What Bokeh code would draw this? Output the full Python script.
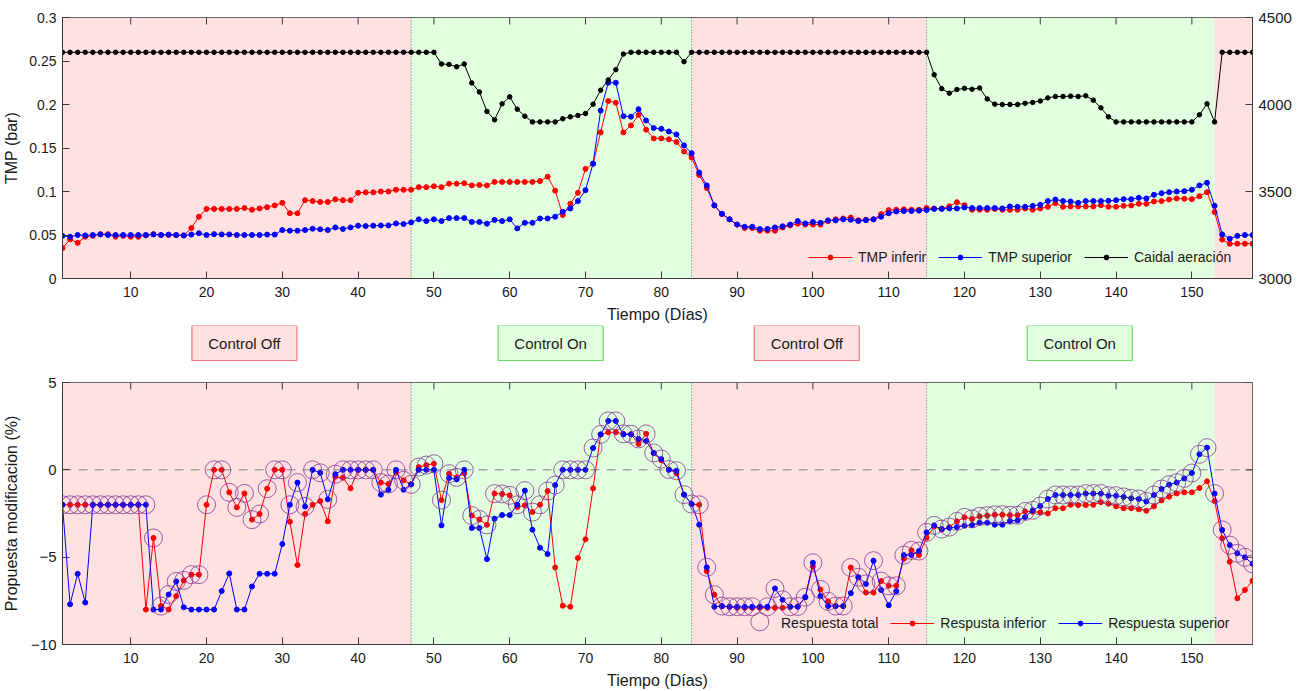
import math
from bokeh.plotting import figure
from bokeh.models import (Range1d, LinearAxis, FixedTicker, BoxAnnotation, Span,
                          Legend, LegendItem)
from bokeh.layouts import column
from bokeh.core.properties import value
from bokeh.embed import file_html
from bokeh.resources import INLINE

FONT = "Liberation Sans"

days = list(range(1, 159))

tmp_inferior = [
    0.035, 0.045, 0.041, 0.048, 0.049, 0.051, 0.051, 0.048, 0.049, 0.048,
    0.048, 0.0495, 0.051, 0.050, 0.050, 0.050, 0.0495, 0.058, 0.071, 0.080,
    0.080, 0.080, 0.080, 0.080, 0.081, 0.079, 0.0805, 0.082, 0.084, 0.087,
    0.075, 0.075, 0.090, 0.089, 0.088, 0.088, 0.091, 0.090, 0.090, 0.0985,
    0.099, 0.099, 0.100, 0.100, 0.102, 0.102, 0.102, 0.105, 0.105, 0.106,
    0.105, 0.109, 0.109, 0.1095, 0.107, 0.1075, 0.107, 0.111, 0.111, 0.111,
    0.111, 0.111, 0.111, 0.112, 0.117, 0.101, 0.073, 0.086, 0.0985, 0.126,
    0.132, 0.168, 0.204, 0.202, 0.168, 0.176, 0.188, 0.171, 0.161, 0.161,
    0.160, 0.157, 0.146, 0.139, 0.119, 0.104, 0.084, 0.074, 0.068, 0.062,
    0.058, 0.058, 0.055, 0.055, 0.055, 0.0587, 0.061, 0.063, 0.062, 0.062,
    0.062, 0.066, 0.068, 0.069, 0.070, 0.067, 0.0675, 0.068, 0.074, 0.0786,
    0.079, 0.0795, 0.079, 0.079, 0.081, 0.0805, 0.0805, 0.083, 0.0877, 0.0843,
    0.079, 0.079, 0.079, 0.080, 0.079, 0.079, 0.079, 0.0805, 0.079, 0.0805,
    0.0824, 0.0866, 0.0824, 0.0828, 0.0828, 0.0828, 0.0828, 0.0843, 0.0824, 0.0824,
    0.0835, 0.084, 0.0859, 0.0859, 0.0885, 0.089, 0.0908, 0.092, 0.0916, 0.0912,
    0.0946, 0.0992, 0.0763, 0.0447, 0.040, 0.040, 0.040, 0.040,
]

tmp_superior = [
    0.049, 0.048, 0.050, 0.0495, 0.050, 0.0507, 0.050, 0.050, 0.050, 0.050,
    0.050, 0.050, 0.0507, 0.050, 0.0505, 0.050, 0.0495, 0.0505, 0.052, 0.050,
    0.051, 0.0507, 0.0507, 0.050, 0.050, 0.050, 0.050, 0.0505, 0.0505, 0.0557,
    0.055, 0.055, 0.0557, 0.0572, 0.0565, 0.0557, 0.0587, 0.057, 0.0587, 0.0607,
    0.0603, 0.0607, 0.061, 0.061, 0.0633, 0.0626, 0.0645, 0.068, 0.066, 0.068,
    0.066, 0.0694, 0.0694, 0.0694, 0.065, 0.065, 0.063, 0.0673, 0.066, 0.068,
    0.0576, 0.064, 0.064, 0.069, 0.069, 0.071, 0.0767, 0.0805, 0.089, 0.1015,
    0.132, 0.193, 0.225, 0.225, 0.1866, 0.186, 0.1946, 0.1816, 0.173, 0.172,
    0.169, 0.1656, 0.153, 0.144, 0.1217, 0.107, 0.084, 0.0744, 0.068, 0.062,
    0.0595, 0.0595, 0.0568, 0.057, 0.0587, 0.060, 0.062, 0.066, 0.0633, 0.065,
    0.064, 0.0668, 0.0668, 0.068, 0.0675, 0.066, 0.067, 0.068, 0.071, 0.075,
    0.077, 0.0775, 0.0775, 0.078, 0.0786, 0.080, 0.080, 0.0805, 0.0805, 0.0817,
    0.081, 0.081, 0.081, 0.081, 0.0805, 0.0828, 0.0824, 0.0824, 0.0835, 0.0847,
    0.089, 0.0908, 0.089, 0.0885, 0.087, 0.089, 0.089, 0.089, 0.0893, 0.090,
    0.0912, 0.0912, 0.0927, 0.092, 0.0962, 0.098, 0.0992, 0.100, 0.1004, 0.102,
    0.107, 0.110, 0.0836, 0.0507, 0.0458, 0.049, 0.050, 0.050,
]

caudal_aeracion = [
    4300, 4300, 4300, 4300, 4300, 4300, 4300, 4300, 4300, 4300,
    4300, 4300, 4300, 4300, 4300, 4300, 4300, 4300, 4300, 4300,
    4300, 4300, 4300, 4300, 4300, 4300, 4300, 4300, 4300, 4300,
    4300, 4300, 4300, 4300, 4300, 4300, 4300, 4300, 4300, 4300,
    4300, 4300, 4300, 4300, 4300, 4300, 4300, 4300, 4300, 4300,
    4233, 4230, 4217, 4233, 4124, 4072, 3960, 3912, 4004, 4044,
    3973, 3933, 3900, 3900, 3900, 3900, 3918, 3929, 3937, 3948,
    4002, 4082, 4141, 4200, 4290, 4300, 4300, 4300, 4300, 4300,
    4300, 4300, 4246, 4300, 4300, 4300, 4300, 4300, 4300, 4300,
    4300, 4300, 4300, 4300, 4300, 4300, 4300, 4300, 4300, 4300,
    4300, 4300, 4300, 4300, 4300, 4300, 4300, 4300, 4300, 4300,
    4300, 4300, 4300, 4300, 4300, 4171, 4091, 4065, 4086, 4093,
    4088, 4095, 4032, 4002, 4000, 4000, 4000, 4007, 4012, 4020,
    4038, 4046, 4046, 4048, 4046, 4050, 4025, 3981, 3929, 3900,
    3900, 3900, 3900, 3900, 3900, 3900, 3900, 3900, 3900, 3900,
    3941, 4004, 3900, 4300, 4300, 4300, 4300, 4300,
]

resp_inferior = [
    -2, -2, -2, -2, -2, -2, -2, -2, -2, -2,
    -2, -8, -3.9, -7.8, -8, -7.23, -6.33, -6, -6, -2,
    0, 0, -1.29, -2.15, -1.35, -2.85, -2.53, -1.08, 0, 0,
    -2.97, -5.45, -2.53, -2, -1.79, -2.95, -0.39, -0.45, -1.06, 0,
    0, 0, -0.73, -0.81, -0.15, -0.6, -0.83, 0.16, 0.27, 0.35,
    -1.73, -0.22, -0.43, -0.2, -2.62, -2.84, -3.15, -1.36, -1.38, -1.46,
    -2.13, -2.03, -2.42, -2, -1.21, -5.59, -7.78, -7.84, -5.05, -3.98,
    -1.06, 2.02, 2.15, 2.15, 2.06, 2.04, 1.48, 2.06, 0.95, 0.54,
    0.02, -0.2, -1.42, -1.96, -2, -5.8, -7.15, -7.82, -7.84, -7.9,
    -7.9, -7.9, -7.9, -7.9, -7.9, -7.9, -7.84, -7.82, -7.29, -5.53,
    -6.85, -7.53, -7.8, -7.8, -5.59, -6.15, -7.03, -7.03, -6.37, -6.64,
    -6.64, -5.09, -4.61, -4.88, -3.89, -3.24, -3.43, -3.28, -2.95, -2.72,
    -2.81, -2.66, -2.62, -2.57, -2.57, -2.6, -2.6, -2.38, -2.4, -2.43,
    -2.5, -2.2, -2.2, -2.0, -2.02, -2.02, -2.0, -1.85, -1.94, -2.09,
    -2.2, -2.2, -2.26, -2.34, -2.09, -1.75, -1.54, -1.35, -1.29, -1.29,
    -1.04, -0.66, -1.79, -3.92, -5.26, -7.35, -6.88, -6.35,
]

resp_superior = [
    -2, -7.7, -5.95, -7.6, -2, -2, -2, -2, -2, -2,
    -2, -2, -8, -8, -7.14, -6.39, -7.87, -8, -8, -8,
    -8, -6.94, -5.93, -8, -8, -6.68, -5.95, -5.95, -5.95, -4.25,
    -2, -0.73, -2.1, 0, -0.17, -1.69, -0.25, 0, 0, 0,
    0, 0, -1.42, -1.14, 0, -1.14, -0.83, 0, 0, 0,
    -3.18, -0.47, -0.55, 0, -3.33, -3.33, -5.11, -2.8, -2.59, -2.59,
    -2, -1.19, -3.43, -4.46, -4.82, -0.87, 0, 0, 0, 0,
    1.25, 2.03, 2.8, 2.8, 2.03, 2.03, 1.77, 1.65, 0.97, 0.62,
    0, -0.05, -1.42, -1.96, -3.14, -5.58, -7.84, -7.8, -7.84, -7.84,
    -7.84, -7.84, -7.84, -7.84, -6.79, -7.44, -7.84, -7.84, -7.29, -5.32,
    -7.23, -7.8, -7.8, -7.8, -7.06, -6.15, -6.53, -5.2, -6.88, -7.75,
    -6.95, -4.88, -4.88, -4.65, -3.58, -3.18, -3.39, -3.33, -3.28, -3.2,
    -3.16, -3.03, -3.03, -3.14, -3.14, -2.93, -2.9, -2.7, -2.32, -2.07,
    -1.67, -1.44, -1.44, -1.44, -1.44, -1.36, -1.36, -1.36, -1.48, -1.48,
    -1.55, -1.63, -1.67, -1.81, -1.44, -1.1, -0.85, -0.73, -0.49, -0.18,
    0.89, 1.27, -1.36, -3.44, -4.31, -4.78, -5.01, -5.38,
]

resp_total = [
    -2, -2, -2, -2, -2, -2, -2, -2, -2, -2,
    -2, -2, -3.9, -7.8, -7.14, -6.39, -6.33, -6, -6, -2,
    0, 0, -1.29, -2.15, -1.35, -2.85, -2.53, -1.08, 0, 0,
    -2, -0.73, -2.1, 0, -0.17, -1.69, -0.25, 0, 0, 0,
    0, 0, -0.73, -0.81, 0, -0.6, -0.83, 0.16, 0.27, 0.35,
    -1.73, -0.22, -0.43, 0, -2.62, -2.84, -3.15, -1.36, -1.38, -1.46,
    -2, -1.19, -2.42, -2, -1.21, -0.87, 0, 0, 0, 0,
    1.25, 2.03, 2.8, 2.8, 2.06, 2.04, 1.77, 2.06, 0.97, 0.62,
    0.02, -0.05, -1.42, -1.96, -2, -5.58, -7.15, -7.8, -7.84, -7.84,
    -7.84, -7.84, -8.7, -7.84, -6.79, -7.44, -7.84, -7.82, -7.29, -5.32,
    -6.85, -7.53, -7.8, -7.8, -5.59, -6.15, -6.53, -5.2, -6.37, -6.64,
    -6.64, -4.88, -4.61, -4.65, -3.58, -3.18, -3.39, -3.28, -2.95, -2.72,
    -2.81, -2.66, -2.62, -2.57, -2.57, -2.6, -2.6, -2.38, -2.32, -2.07,
    -1.67, -1.44, -1.44, -1.44, -1.44, -1.36, -1.36, -1.36, -1.48, -1.48,
    -1.55, -1.63, -1.67, -1.81, -1.44, -1.1, -0.85, -0.73, -0.49, -0.18,
    0.89, 1.27, -1.36, -3.44, -4.31, -4.78, -5.01, -5.38,
]

phase_edges = [1, 47, 84, 115, 153, 158]
phase_on = [False, True, False, True, False]
boundary_lines = [47, 84, 115]
phase_labels = ["Control Off", "Control On", "Control Off", "Control On"]
phase_label_days = [25.0, 65.4, 99.2, 135.2]
phase_label_on = [False, True, False, True]

x_ticks = [10, 20, 30, 40, 50, 60, 70, 80, 90, 100, 110, 120, 130, 140, 150]
tmp_ticks = [0, 0.05, 0.1, 0.15, 0.2, 0.25, 0.3]
tmp_tick_labels = ["0", "0.05", "0.1", "0.15", "0.2", "0.25", "0.3"]
air_ticks = [3000, 3500, 4000, 4500]
resp_ticks = [-10, -5, 0, 5]

PINK = "#FFE1E1"
GREEN = "#E1FFDE"
FRAME = "#3a3a3a"
W = 1305
LB, RB = 60, 53
X0, X1 = 1, 158


def style_axis(ax, ticks, size="14px"):
    ax.ticker = FixedTicker(ticks=ticks)
    ax.major_tick_in = 7
    ax.major_tick_out = 0
    ax.minor_tick_line_color = None
    ax.axis_line_color = FRAME
    ax.major_tick_line_color = FRAME
    ax.major_label_text_font = FONT
    ax.major_label_text_font_size = size
    ax.major_label_text_color = "#1a1a1a"
    ax.axis_label_text_font = FONT
    ax.axis_label_text_font_size = "16px"
    ax.axis_label_text_font_style = "normal"
    ax.axis_label_text_color = "#1a1a1a"


def add_phases(p):
    for i in range(len(phase_on)):
        p.add_layout(BoxAnnotation(left=phase_edges[i], right=phase_edges[i + 1],
                                   fill_color=GREEN if phase_on[i] else PINK,
                                   fill_alpha=1.0, line_color=None, level="underlay"))
    for b in boundary_lines:
        p.add_layout(Span(location=b, dimension="height", line_color="#606060",
                          line_width=1, line_dash="1 2", level="underlay"))


def top_ticks(p, ytop):
    # inward ticks on the upper edge of the box (MATLAB style)
    p.ray(x=x_ticks, y=[ytop] * len(x_ticks), length=7, length_units="screen",
          angle=-math.pi / 2, line_color=FRAME, line_width=1)


# ---------------- top panel ----------------
p1 = figure(width=W, height=325, x_range=Range1d(X0, X1), y_range=Range1d(0, 0.3),
            output_backend="svg", toolbar_location=None,
            min_border_left=LB, min_border_right=RB, min_border_top=17, min_border_bottom=46)
p1.xgrid.visible = False
p1.ygrid.visible = False
p1.outline_line_color = FRAME
p1.background_fill_color = "white"
add_phases(p1)

p1.extra_y_ranges = {"air": Range1d(3000, 4500)}

style_axis(p1.xaxis[0], x_ticks)
p1.xaxis[0].axis_label = "Tiempo (Días)"
p1.xaxis[0].major_label_standoff = 8
p1.xaxis[0].axis_label_standoff = 6
style_axis(p1.yaxis[0], tmp_ticks)
p1.yaxis[0].major_label_overrides = {t: l for t, l in zip(tmp_ticks, tmp_tick_labels)}
p1.yaxis[0].axis_label = "TMP (bar)"
p1.yaxis[0].major_label_standoff = 6
p1.yaxis[0].axis_label_standoff = 6

ax_air = LinearAxis(y_range_name="air")
style_axis(ax_air, air_ticks, size="15px")
ax_air.major_label_standoff = 6
p1.add_layout(ax_air, "right")
top_ticks(p1, 0.3)

l_inf = p1.line(days, tmp_inferior, line_color="#FF0000", line_width=1)
s_inf = p1.scatter(days, tmp_inferior, size=5, color="#FF0000")
l_sup = p1.line(days, tmp_superior, line_color="#0000FF", line_width=1)
s_sup = p1.scatter(days, tmp_superior, size=5, color="#0000FF")
l_air = p1.line(days, caudal_aeracion, line_color="black", line_width=1, y_range_name="air")
s_air = p1.scatter(days, caudal_aeracion, size=4.5, color="black", y_range_name="air")

leg1 = Legend(items=[LegendItem(label="TMP inferir", renderers=[l_inf, s_inf]),
                     LegendItem(label="TMP superior", renderers=[l_sup, s_sup]),
                     LegendItem(label="Caidal aeración", renderers=[l_air, s_air])],
              orientation="horizontal", location=(746, 13),
              background_fill_alpha=0, border_line_color=None,
              glyph_width=44, glyph_height=12, label_standoff=6, spacing=12, padding=4,
              label_height=16,
              label_text_font=FONT, label_text_font_size="14px", label_text_color="#1a1a1a")
p1.add_layout(leg1)

# ---------------- middle labels ----------------
p2 = figure(width=W, height=40, x_range=p1.x_range, y_range=Range1d(0, 1),
            output_backend="svg", toolbar_location=None, x_axis_type=None, y_axis_type=None,
            min_border_left=LB, min_border_right=RB, min_border_top=0, min_border_bottom=0)
p2.outline_line_color = None
p2.xgrid.visible = False
p2.ygrid.visible = False
p2.rect(x=phase_label_days, y=0.5625, width=105, height=35, width_units="screen",
        height_units="screen",
        fill_color=[GREEN if on else PINK for on in phase_label_on],
        line_color=["#66DD66" if on else "#F07878" for on in phase_label_on], line_width=1.2)
p2.text(x=phase_label_days, y=0.5625, text=phase_labels, text_align="center",
        text_baseline="middle", text_font=value(FONT), text_font_size="15px",
        text_color="#1a1a1a")

# ---------------- bottom panel ----------------
p3 = figure(width=W, height=326, x_range=p1.x_range, y_range=Range1d(-10, 5),
            output_backend="svg", toolbar_location=None,
            min_border_left=LB, min_border_right=RB, min_border_top=17, min_border_bottom=47)
p3.xgrid.visible = False
p3.ygrid.visible = False
p3.outline_line_color = FRAME
add_phases(p3)
p3.add_layout(Span(location=0, dimension="width", line_color="#A8A8A8", line_width=1.5,
                   line_dash="9 7", level="underlay"))

style_axis(p3.xaxis[0], x_ticks)
p3.xaxis[0].axis_label = "Tiempo (Días)"
p3.xaxis[0].major_label_standoff = 8
p3.xaxis[0].axis_label_standoff = 6
style_axis(p3.yaxis[0], resp_ticks, size="15px")
p3.yaxis[0].axis_label = "Propuesta modificacion (%)"
p3.yaxis[0].major_label_standoff = 6
p3.yaxis[0].axis_label_standoff = 8
top_ticks(p3, 5)
p3.ray(x=[X1] * len(resp_ticks), y=resp_ticks, length=7, length_units="screen",
       angle=math.pi, line_color=FRAME, line_width=1)

r_inf = p3.line(days, resp_inferior, line_color="#FF0000", line_width=1)
m_inf = p3.scatter(days, resp_inferior, size=5, color="#FF0000")
r_sup = p3.line(days, resp_superior, line_color="#0000FF", line_width=1)
m_sup = p3.scatter(days, resp_superior, size=5, color="#0000FF")
p3.scatter(days, resp_total, marker="circle", size=18, fill_color=None,
           line_color="#7E2F8E", line_alpha=0.75, line_width=1)
r_tot_leg = p3.scatter([], [], size=1, fill_alpha=0, line_alpha=0)

leg3 = Legend(items=[LegendItem(label="Respuesta total", renderers=[r_tot_leg]),
                     LegendItem(label="Respusta inferior", renderers=[r_inf, m_inf]),
                     LegendItem(label="Respuesta superior", renderers=[r_sup, m_sup])],
              orientation="horizontal", location=(669, 13),
              background_fill_alpha=0, border_line_color=None,
              glyph_width=44, glyph_height=12, label_standoff=6, spacing=12, padding=4,
              label_height=16,
              label_text_font=FONT, label_text_font_size="14px", label_text_color="#1a1a1a")
p3.add_layout(leg3)

layout = column(p1, p2, p3, spacing=0)
open("out.html", "w").write(file_html(layout, INLINE))
